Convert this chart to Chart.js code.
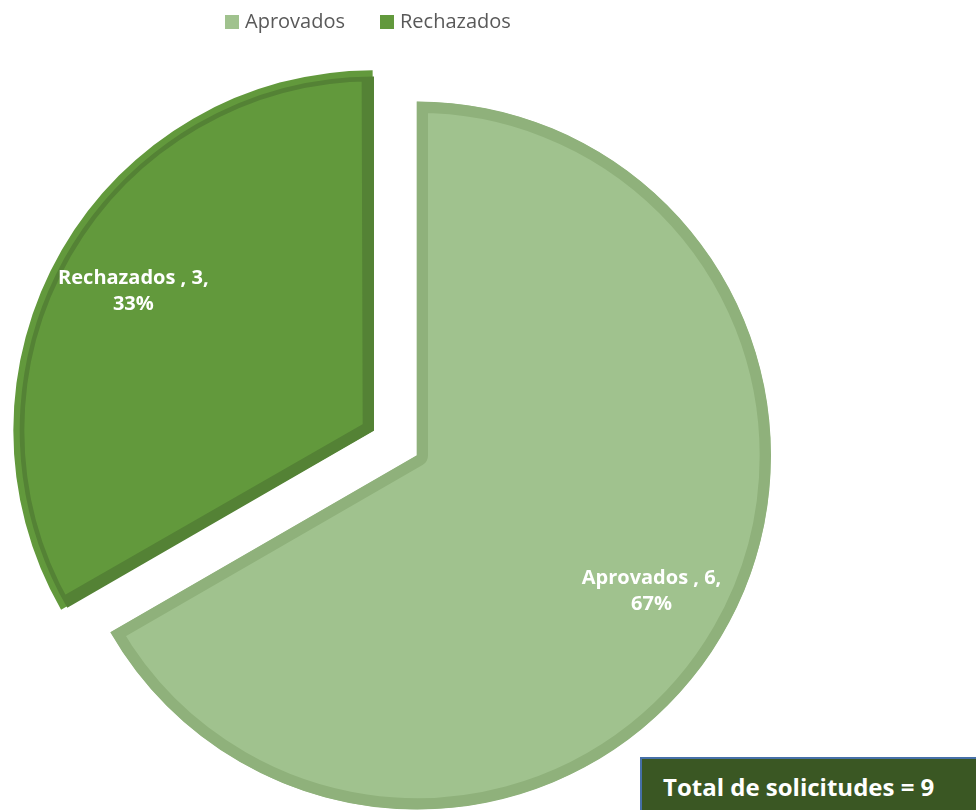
<!DOCTYPE html>
<html>
<head>
<meta charset="utf-8">
<script src="https://cdn.jsdelivr.net/npm/chart.js@4"></script>
<style>
  html, body { margin: 0; padding: 0; background: #fff; }
  #wrap { position: relative; width: 976px; height: 810px; overflow: hidden; }
  #total {
    position: absolute; left: 640px; top: 757px; width: 340px; height: 60px;
    box-sizing: border-box; background: #3a5723; border: 2px solid #4670a8;
    color: #fff; font: bold 24px "Open Sans", sans-serif;
    padding: 11px 0 0 21px; white-space: nowrap;
  }
</style>
</head>
<body>
<div id="wrap">
  <canvas id="pieChart" width="976" height="810"></canvas>
  <div id="total">Total de solicitudes = 9</div>
</div>
<script>
// datos
const categorias = ["Aprovados", "Rechazados"];
const valores = [6, 3];
const colores = ["#a0c28e", "#62993c"];
const bordes = ["#8fb17b", "#548235"];

// leyenda propia (centrada sobre la figura, no sobre el area del grafico)
const leyenda = {
  id: "leyenda",
  afterDraw(chart) {
    const ctx = chart.ctx;
    ctx.save();
    ctx.font = '20px "Open Sans", sans-serif';
    ctx.textBaseline = "middle";
    const xs = [225, 380];
    categorias.forEach((c, i) => {
      ctx.fillStyle = colores[i];
      ctx.fillRect(xs[i], 15, 14, 14);
      ctx.fillStyle = "#595959";
      ctx.fillText(c, xs[i] + 20, 22);
    });
    ctx.restore();
  }
};

// etiquetas dentro de cada sector
const etiquetas = {
  id: "etiquetas",
  afterDatasetsDraw(chart) {
    const ctx = chart.ctx;
    const total = valores.reduce((a, b) => a + b, 0);
    ctx.save();
    ctx.font = 'bold 20px "Open Sans", sans-serif';
    ctx.fillStyle = "#fff";
    ctx.textAlign = "center";
    ctx.textBaseline = "middle";
    chart.getDatasetMeta(0).data.forEach((arc, i) => {
      const p = arc.getProps(["x", "y", "startAngle", "endAngle", "outerRadius", "circumference"], true);
      const mid = (p.startAngle + p.endAngle) / 2;
      const off = (arc.options.offset || 0) / 4;
      const fix = 1 - Math.sin(Math.min(Math.PI, p.circumference));
      const d = off * (1 + fix) + p.outerRadius * 0.765;
      const x = p.x + Math.cos(mid) * d;
      const y = p.y + Math.sin(mid) * d;
      const pct = Math.round(valores[i] / total * 100);
      ctx.fillText(categorias[i] + " , " + valores[i] + ",", x, y - 13);
      ctx.fillText(pct + "%", x, y + 13);
    });
    ctx.restore();
  }
};

new Chart(document.getElementById("pieChart"), {
  type: "pie",
  data: {
    labels: categorias,
    datasets: [{
      data: valores,
      backgroundColor: colores,
      borderColor: bordes,
      borderWidth: 11,
      borderAlign: "inner",
      offset: [0, 200],
      clip: false
    }]
  },
  options: {
    responsive: false,
    animation: false,
    radius: 354,
    layout: { padding: { top: 101, right: 142, bottom: 0, left: 0 } },
    plugins: {
      legend: { display: false },
      tooltip: { enabled: false }
    }
  },
  plugins: [leyenda, etiquetas]
});
</script>
</body>
</html>
